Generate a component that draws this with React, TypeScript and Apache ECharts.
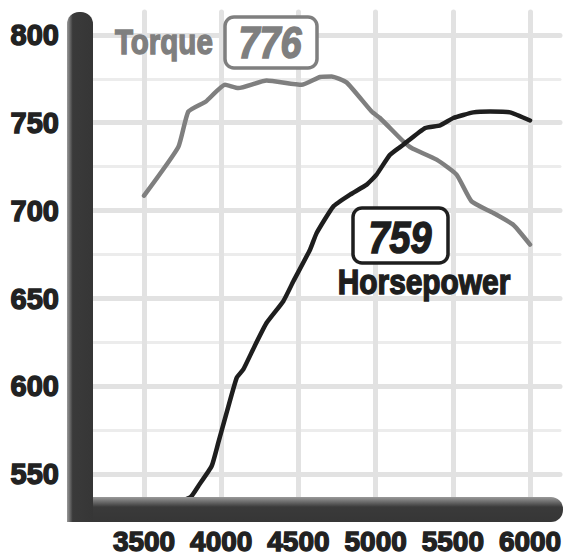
import React, { useEffect, useRef } from "react";
import * as echarts from "echarts";

const xTicks = [3500, 4000, 4500, 5000, 5500, 6000];
const yMajor = [550, 600, 650, 700, 750, 800];
const yMinor = [575, 625, 675, 725, 775];

const torqueRpm = [3500, 3722, 3787, 3901, 4024, 4111, 4294, 4521, 4640, 4715, 4812, 4974, 5028, 5179, 5233, 5395, 5524, 5621, 5762, 5891, 6000];
const torqueVal = [708.5, 736.2, 756.4, 762.1, 771.6, 769.7, 774.0, 771.6, 776.0, 776.3, 772.9, 756.4, 752.7, 739.4, 735.6, 729.0, 720.5, 705.3, 698.7, 692.0, 680.7];

const hpRpm = [3500, 3798, 3852, 3938, 3981, 4035, 4100, 4143, 4216, 4294, 4402, 4467, 4575, 4618, 4726, 4834, 4942, 5006, 5093, 5179, 5321, 5418, 5503, 5633, 5741, 5870, 6000];
const hpVal = [527.3, 536.8, 543.4, 554.7, 568.0, 585.1, 604.9, 609.7, 622.9, 636.2, 648.5, 659.8, 677.8, 687.3, 702.4, 709.1, 714.8, 720.5, 731.8, 737.5, 747.0, 748.5, 752.7, 755.9, 756.4, 755.9, 751.3];

const torqueName = "Torque";
const torquePeak = "776";
const hpName = "Horsepower";
const hpPeak = "759";

const GRAY = "#7f7f7f";
const BLACK = "#1e1e1e";
const FONT = "Liberation Sans";

export default function App() {
  const ref = useRef<HTMLDivElement>(null);
  useEffect(() => {
    document.body.style.margin = "0";
    if (!ref.current) return;
    const chart = echarts.init(ref.current, undefined, { renderer: "svg" });
    const labelFont = {
      fontFamily: FONT,
      fontWeight: "bold" as const,
      color: "#222",
      textBorderColor: "#222",
      textBorderWidth: 1.4,
      formatter: (v: number) => String(v),
    };
    const txt = (
      text: string,
      x: number,
      y: number,
      size: number,
      color: string,
      sx: number,
      align: string,
      italic = false
    ) => ({
      type: "text",
      z: 111,
      x,
      y,
      scaleX: sx,
      style: {
        text,
        fill: color,
        fontFamily: FONT,
        fontWeight: "bold",
        fontStyle: italic ? "italic" : "normal",
        fontSize: size,
        stroke: color,
        lineWidth: 1.5,
        verticalAlign: "middle",
        align,
      },
    });
    chart.setOption({
      animation: false,
      backgroundColor: "#fff",
      grid: { left: 90, top: 12, width: 470, height: 485 },
      xAxis: {
        type: "value",
        min: 3150,
        max: 6194,
        axisLine: { show: false },
        axisTick: { show: false, customValues: xTicks },
        axisLabel: { customValues: xTicks, fontSize: 28, margin: 31, ...labelFont },
        splitLine: { show: true, lineStyle: { color: "#e2e2e2", width: 5, cap: "round" } },
      },
      yAxis: [
        {
          type: "value",
          min: 537.5,
          max: 813,
          axisLine: { show: false },
          axisTick: { show: false, customValues: yMajor },
          axisLabel: { customValues: yMajor, fontSize: 29, margin: 31, ...labelFont },
          splitLine: { show: true, lineStyle: { color: "#e2e2e2", width: 5, cap: "round" } },
        },
        {
          type: "value",
          min: 537.5,
          max: 813,
          position: "left",
          axisLine: { show: false },
          axisTick: { show: false, customValues: yMinor },
          axisLabel: { show: false, customValues: yMinor },
          splitLine: { show: true, lineStyle: { color: "#ececec", width: 3, cap: "round" } },
        },
      ],
      series: [
        {
          type: "line",
          name: torqueName,
          yAxisIndex: 0,
          data: torqueRpm.map((r, i) => [r, torqueVal[i]]),
          smooth: 0.15,
          symbol: "none",
          lineStyle: { color: GRAY, width: 4.5, cap: "round", join: "round" },
          z: 3,
        },
        {
          type: "line",
          name: hpName,
          yAxisIndex: 0,
          data: hpRpm.map((r, i) => [r, hpVal[i]]),
          smooth: 0.15,
          symbol: "none",
          clip: false,
          lineStyle: { color: BLACK, width: 4.5, cap: "round", join: "round" },
          z: 3,
        },
      ],
      graphic: [
        {
          type: "rect",
          z: 100,
          shape: { x: 67, y: 12, width: 26, height: 510, r: [12, 12, 0, 0] },
          style: {
            fill: new echarts.graphic.LinearGradient(0, 0, 1, 0, [
              { offset: 0, color: "#9a9a9a" },
              { offset: 0.22, color: "#3a3a3a" },
              { offset: 1, color: "#363636" },
            ]),
          },
        },
        {
          type: "rect",
          z: 100,
          shape: { x: 93, y: 497, width: 470, height: 25, r: [0, 12, 12, 0] },
          style: {
            fill: new echarts.graphic.LinearGradient(0, 0, 0, 1, [
              { offset: 0, color: "#9a9a9a" },
              { offset: 0.4, color: "#3a3a3a" },
              { offset: 1, color: "#363636" },
            ]),
          },
        },
        txt(torqueName, 115, 41, 36, GRAY, 0.82, "left"),
        {
          type: "rect",
          z: 110,
          shape: { x: 225, y: 17, width: 92, height: 51, r: 9 },
          style: { fill: "#fff", stroke: GRAY, lineWidth: 3.5 },
        },
        txt(torquePeak, 270, 43, 44, GRAY, 0.86, "center", true),
        {
          type: "rect",
          z: 110,
          shape: { x: 353, y: 208, width: 95, height: 55, r: 9 },
          style: { fill: "#fff", stroke: BLACK, lineWidth: 3.5 },
        },
        txt(hpPeak, 400, 238, 44, BLACK, 0.86, "center", true),
        txt(hpName, 424, 281, 36, BLACK, 0.83, "center"),
      ],
    });
    return () => chart.dispose();
  }, []);
  return <div ref={ref} style={{ width: 565, height: 556 }} />;
}
